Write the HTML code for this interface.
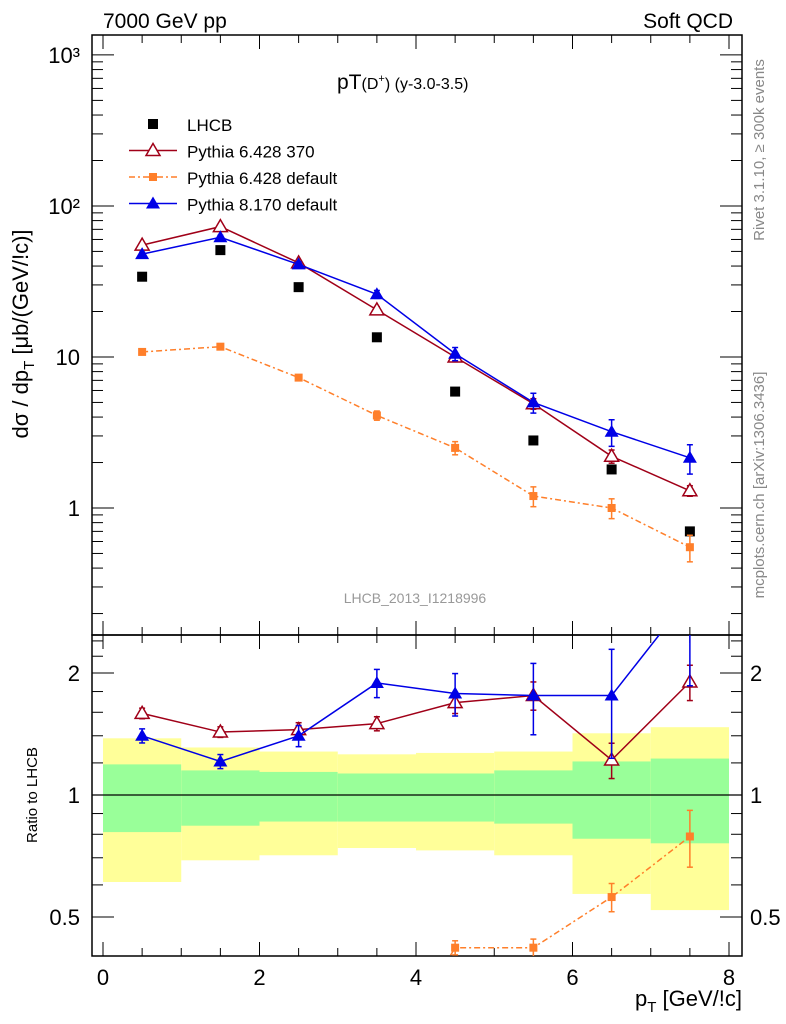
<!DOCTYPE html>
<html><head><meta charset="utf-8"><style>
html,body{margin:0;background:#fff;width:786px;height:1024px;overflow:hidden;}
svg{display:block;font-family:"Liberation Sans",sans-serif;overflow:hidden;}
</style></head><body>
<svg id="c" width="786" height="1024"></svg>
<script>
const xCenters=[0.5,1.5,2.5,3.5,4.5,5.5,6.5,7.5];
const binEdges=[0,1,2,3,4,5,6,7,8];
const lhcb=[34,51,29,13.5,5.9,2.8,1.8,0.7];
const py6t370=[55,73,42,20.5,10,4.9,2.2,1.3];
const py6t370Err=[0.03,0.03,0.03,0.05,0.06,0.08,0.1,0.08];
const py6def=[10.8,11.7,7.3,4.1,2.5,1.2,1.0,0.55];
const py6defErr=[0.03,0.03,0.04,0.07,0.1,0.15,0.15,0.2];
const py8=[48,62,41,26,10.5,5.0,3.2,2.15];
const py8Err=[0.03,0.03,0.04,0.06,0.1,0.15,0.2,0.22];
const r370=[1.59,1.43,1.45,1.50,1.69,1.76,1.22,1.90];
const r370Err=[0.03,0.03,0.04,0.04,0.06,0.08,0.1,0.1];
const rDef=[0.2,0.2,0.2,0.2,0.42,0.42,0.56,0.79];
const rDefErr=[0.02,0.02,0.02,0.02,0.04,0.05,0.08,0.16];
const r8=[1.40,1.21,1.40,1.89,1.78,1.76,1.76,3.1];
const r8Err=[0.04,0.04,0.06,0.08,0.12,0.2,0.3,0.4];
const yelHi=[1.38,1.31,1.28,1.26,1.27,1.28,1.42,1.47];
const yelLo=[0.61,0.69,0.71,0.74,0.73,0.71,0.57,0.52];
const grnHi=[1.19,1.15,1.14,1.13,1.13,1.15,1.21,1.23];
const grnLo=[0.81,0.84,0.86,0.86,0.86,0.85,0.78,0.76];
const xTicks=[0,2,4,6,8];
const mainYTicks=[1000,100,10,1];
const mainYLabels=["10³","10²","10","1"];
const ratioYTicks=[0.5,1,2];

const NS="http://www.w3.org/2000/svg";
const svg=document.getElementById('c');
const L=92,R=742,T=35,MB=635,RB=956;
function X(v){return 103+(v-0)*(729-103)/8;}
const mTop=3.132,mBot=-0.841;
function YM(v){return T+(mTop-Math.log10(v))/(mTop-mBot)*(MB-T);}
function YR(v){return 795-Math.log2(v)*122;}
function el(tag,attrs,parent,text){const e=document.createElementNS(NS,tag);for(const k in attrs)e.setAttribute(k,attrs[k]);if(text!==undefined)e.textContent=text;(parent||svg).appendChild(e);return e;}

const defs=el('defs',{});
const c1=el('clipPath',{id:'cm'},defs);el('rect',{x:L,y:T,width:R-L,height:MB-T},c1);
const c2=el('clipPath',{id:'cr'},defs);el('rect',{x:L,y:MB,width:R-L,height:RB-MB},c2);

const bands=el('g',{'clip-path':'url(#cr)'});


for(let i=0;i<8;i++){
 const x0=X(binEdges[i]),x1=X(binEdges[i+1]);
 const y=el('rect',{x:x0,y:YR(yelHi[i]),width:x1-x0,height:YR(yelLo[i])-YR(yelHi[i]),fill:'#ffff99'},bands);
 
 
 const g=el('rect',{x:x0,y:YR(grnHi[i]),width:x1-x0,height:YR(grnLo[i])-YR(grnHi[i]),fill:'#99ff99'},bands);
 
 
}
el('line',{x1:L,x2:R,y1:YR(1),y2:YR(1),stroke:'#000','stroke-width':1.2});

el('rect',{x:L,y:T,width:R-L,height:MB-T,fill:'none',stroke:'#000','stroke-width':1.5,});
el('rect',{x:L,y:MB,width:R-L,height:RB-MB,fill:'none',stroke:'#000','stroke-width':1.5,});

for(let v=0;v<=8;v+=0.5){
 const maj=(v%2===0);const len=maj?14:8;const x=X(v);
 [[T,1],[MB,-1],[MB,1],[RB,-1]].forEach(([y0,d])=>el('line',{x1:x,x2:x,y1:y0,y2:y0+d*len,stroke:'#000','stroke-width':1}));
}
xTicks.forEach(v=>{const t=el('text',{x:X(v),y:985,'font-size':22,'text-anchor':'middle'},svg,String(v));});

for(let e=-1;e<=3;e++){for(let m=1;m<=9;m++){const v=m*Math.pow(10,e);const y=YM(v);if(y<T||y>MB)continue;const len=m===1?22:11;
 el('line',{x1:L,x2:L+len,y1:y,y2:y,stroke:'#000'});el('line',{x1:R,x2:R-len,y1:y,y2:y,stroke:'#000'});}}
mainYTicks.forEach((v,i)=>{const t=el('text',{x:80,y:YM(v)+8,'font-size':22,'text-anchor':'end'},svg,mainYLabels[i]);});

[0.4,0.5,0.6,0.7,0.8,0.9,1,1.2,1.4,1.6,1.8,2,2.2,2.4].forEach(v=>{const y=YR(v);if(y<MB||y>RB)return;const maj=ratioYTicks.includes(v);const len=maj?22:11;
 el('line',{x1:L,x2:L+len,y1:y,y2:y,stroke:'#000'});el('line',{x1:R,x2:R-len,y1:y,y2:y,stroke:'#000'});});
ratioYTicks.forEach(v=>{[[80,'end'],[750,'start']].forEach(([x,a])=>{const t=el('text',{x:x,y:YR(v)+8,'font-size':22,'text-anchor':a},svg,String(v));});});

function marker(g,type,x,y,color){
 if(type==='sq')el('rect',{x:x-5,y:y-5,width:10,height:10,fill:color},g);
 else if(type==='sqs')el('rect',{x:x-4,y:y-4,width:8,height:8,fill:color},g);
 else if(type==='tri')el('polygon',{points:`${x},${y-7} ${x-7},${y+5} ${x+7},${y+5}`,fill:color},g);
 else if(type==='otri')el('polygon',{points:`${x},${y-7} ${x-7},${y+5} ${x+7},${y+5}`,fill:'#fff',stroke:color,'stroke-width':1.5},g);
}
function series(name,vals,errs,Y,clip,color,type,dash,line){
 const g=el('g',{'clip-path':clip});
 
 
 if(line){const pts=vals.map((v,i)=>X(xCenters[i])+','+Y(v)).join(' ');
  const p=el('polyline',{points:pts,fill:'none',stroke:color,'stroke-width':1.5},g);if(dash)p.setAttribute('stroke-dasharray',dash);}
 vals.forEach((v,i)=>{const x=X(xCenters[i]);
  if(errs){const y1=Y(v*(1+errs[i])),y2=Y(v*(1-errs[i]));
   el('line',{x1:x,x2:x,y1:y1,y2:y2,stroke:color,'stroke-width':1.5},g);
   el('line',{x1:x-3,x2:x+3,y1:y1,y2:y1,stroke:color,'stroke-width':1.5},g);
   el('line',{x1:x-3,x2:x+3,y1:y2,y2:y2,stroke:color,'stroke-width':1.5},g);}
  marker(g,type,x,Y(v),color);});
}
series('lhcb-data',lhcb,null,YM,'url(#cm)','#000','sq',null,false);
series('pythia6-370',py6t370,py6t370Err,YM,'url(#cm)','#a00018','otri',null,true);
series('pythia6-default',py6def,py6defErr,YM,'url(#cm)','#ff7f2a','sqs','6,3,2,3',true);
series('pythia8-default',py8,py8Err,YM,'url(#cm)','#0000e6','tri',null,true);
series('ratio-pythia6-370',r370,r370Err,YR,'url(#cr)','#a00018','otri',null,true);
series('ratio-pythia6-default',rDef,rDefErr,YR,'url(#cr)','#ff7f2a','sqs','6,3,2,3',true);
series('ratio-pythia8-default',r8,r8Err,YR,'url(#cr)','#0000e6','tri',null,true);

const lg=el('g',{});
const leg=[['LHCB','#000','sq',false,null],['Pythia 6.428 370','#a00018','otri',true,null],['Pythia 6.428 default','#ff7f2a','sqs',true,'6,3,2,3'],['Pythia 8.170 default','#0000e6','tri',true,null]];
leg.forEach((d,i)=>{const y=124+i*26.5;
 if(d[3]){const l=el('line',{x1:129,x2:177,y1:y,y2:y,stroke:d[1],'stroke-width':1.5},lg);if(d[4])l.setAttribute('stroke-dasharray',d[4]);}
 marker(lg,d[2],153,y,d[1]);
 el('text',{x:187,y:y+7,'font-size':17},lg,d[0]);});

el('text',{x:103,y:28,'font-size':21,},svg,'7000 GeV pp');
el('text',{x:733,y:28,'font-size':21,'text-anchor':'end',},svg,'Soft QCD');
const tt=el('text',{x:337,y:89,'font-size':21,});
el('tspan',{},tt,'pT');el('tspan',{'font-size':16},tt,'(D');el('tspan',{'font-size':11,dy:-7},tt,'+');el('tspan',{'font-size':16,dy:7},tt,') (y-3.0-3.5)');
el('text',{x:415,y:603,'font-size':14,fill:'#999','text-anchor':'middle',},svg,'LHCB_2013_I1218996');
const yt=el('text',{transform:'translate(28,334) rotate(-90)','font-size':22,'text-anchor':'middle',});
el('tspan',{},yt,'dσ / dp');el('tspan',{'font-size':15,dy:6},yt,'T');el('tspan',{dy:-6},yt,' [μb/(GeV/!c)]');
el('text',{transform:'translate(37,795) rotate(-90)','font-size':15,'text-anchor':'middle',},svg,'Ratio to LHCB');
const xt=el('text',{x:742,y:1006,'font-size':22,'text-anchor':'end',});
el('tspan',{},xt,'p');el('tspan',{'font-size':15,dy:6},xt,'T');el('tspan',{dy:-6},xt,' [GeV/!c]');
el('text',{transform:'translate(764,150) rotate(-90)','font-size':15,fill:'#888','text-anchor':'middle',},svg,'Rivet 3.1.10, ≥ 300k events');
el('text',{transform:'translate(764,485) rotate(-90)','font-size':15,fill:'#888','text-anchor':'middle',},svg,'mcplots.cern.ch [arXiv:1306.3436]');
</script>
</body></html>
